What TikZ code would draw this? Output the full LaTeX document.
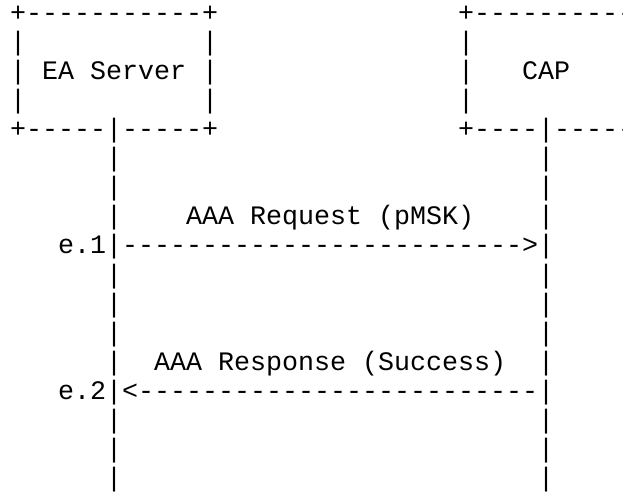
\documentclass[tikz,border=0pt]{standalone}
\usepackage{fontspec}
\setmonofont{Liberation Mono}
\tikzset{
  txt/.style={anchor=base west, inner sep=0pt, outer sep=0pt,
    font=\ttfamily\fontsize{26.67}{29}\selectfont, text=black}
}
\newcommand\seg[4]{\node[txt] (#1) at ({10+16*#2},{-(21.5+29.06*#3)}) {#4};}
\begin{document}
\begin{tikzpicture}[x=1pt,y=1pt]
\fill[white] (0,0) rectangle (623,-494);
\useasboundingbox (0,0) rectangle (623,-494);
\clip (0,0) rectangle (623,-494);
% EA Server box
\seg{eatop}{0}{0}{+-----------+}
\seg{eal1}{0}{1}{|}
\seg{ear1}{12}{1}{|}
\seg{eal2}{0}{2}{|}
\seg{ealabel}{2}{2}{EA Server}
\seg{ear2}{12}{2}{|}
\seg{eal3}{0}{3}{|}
\seg{ear3}{12}{3}{|}
\seg{eabot}{0}{4}{+-----|-----+}
% CAP box
\seg{captop}{28}{0}{+-----------}
\seg{capl1}{28}{1}{|}
\seg{capl2}{28}{2}{|}
\seg{caplabel}{32}{2}{CAP}
\seg{capl3}{28}{3}{|}
\seg{capbot}{28}{4}{+----|------}
% lifelines
\foreach \r in {5,6,9,10,11,14,15,16}{
  \seg{ll\r}{6}{\r}{|}
  \seg{rl\r}{33}{\r}{|}
}
% message 1
\seg{ll7}{6}{7}{|}
\seg{m1label}{11}{7}{AAA Request (pMSK)}
\seg{rl7}{33}{7}{|}
\seg{m1}{3}{8}{e.1|------------------------->|}
% message 2
\seg{ll12}{6}{12}{|}
\seg{m2label}{9}{12}{AAA Response (Success)}
\seg{rl12}{33}{12}{|}
\seg{m2}{3}{13}{e.2|<-------------------------|}
\end{tikzpicture}
\end{document}
